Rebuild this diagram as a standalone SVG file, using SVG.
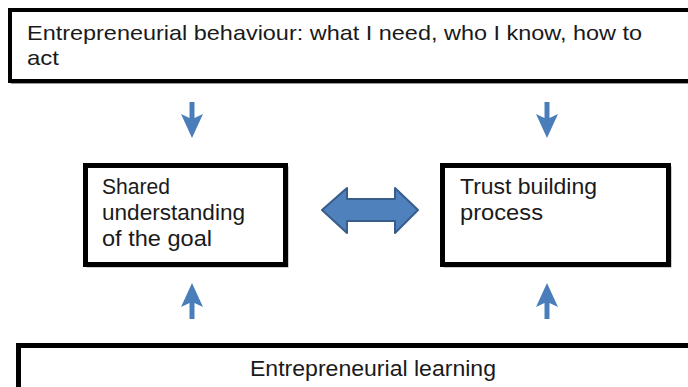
<svg xmlns="http://www.w3.org/2000/svg" width="688" height="387" viewBox="0 0 688 387">
  <defs>
    <style>
      .box { fill: #ffffff; stroke: #000000; }
      .shadow { fill: none; stroke: #9a9a9a; }
      .label { font-family: "Liberation Sans", Arial, sans-serif; fill: #1a1a1a; }
      .arrow { fill: #4a7ebb; }
      .double { fill: #4f81bd; stroke: #385d8a; stroke-width: 2; stroke-linejoin: round; }
    </style>
    <!-- small downward block arrow, tip at (0,0) -->
    <path id="down-arrow" d="M-2.5,-36 H2.5 V-20 L11,-24 L0,0 L-11,-24 L-2.5,-20 Z"/>
  </defs>

  <rect width="688" height="387" fill="#ffffff"/>

  <g id="behaviour">
    <rect class="shadow" x="12" y="12" width="690" height="71" stroke-width="2"/>
    <rect class="box" x="10" y="10" width="690" height="71" stroke-width="4"/>
    <text class="label" x="27" y="40" font-size="21" textLength="615" lengthAdjust="spacingAndGlyphs">Entrepreneurial behaviour: what I need, who I know, how to</text>
    <text class="label" x="27" y="65" font-size="21" textLength="32" lengthAdjust="spacingAndGlyphs">act</text>
  </g>

  <g id="shared-goal">
    <rect class="shadow" x="87.5" y="167.5" width="200" height="99" stroke-width="2"/>
    <rect class="box" x="85.5" y="165.5" width="200" height="99" stroke-width="5"/>
    <text class="label" x="102" y="194" font-size="22" textLength="68" lengthAdjust="spacingAndGlyphs">Shared</text>
    <text class="label" x="102" y="220" font-size="22" textLength="143" lengthAdjust="spacingAndGlyphs">understanding</text>
    <text class="label" x="102" y="246" font-size="22" textLength="110" lengthAdjust="spacingAndGlyphs">of the goal</text>
  </g>

  <g id="trust-building">
    <rect class="shadow" x="444.5" y="167.5" width="226" height="99" stroke-width="2"/>
    <rect class="box" x="442.5" y="165.5" width="226" height="99" stroke-width="5"/>
    <text class="label" x="460" y="194" font-size="22" textLength="137" lengthAdjust="spacingAndGlyphs">Trust building</text>
    <text class="label" x="460" y="220" font-size="22" textLength="83" lengthAdjust="spacingAndGlyphs">process</text>
  </g>

  <g id="learning">
    <rect class="box" x="18.5" y="345.5" width="680" height="60" stroke-width="5"/>
    <text class="label" x="250" y="376" font-size="22" textLength="246" lengthAdjust="spacingAndGlyphs">Entrepreneurial learning</text>
  </g>

  <g id="connectors">
    <use href="#down-arrow" class="arrow" transform="translate(192,138)"/>
    <use href="#down-arrow" class="arrow" transform="translate(547,138)"/>
    <use href="#down-arrow" class="arrow" transform="translate(192,283) rotate(180)"/>
    <use href="#down-arrow" class="arrow" transform="translate(547,283) rotate(180)"/>
    <polygon class="double" points="322,210 347,188 347,199 395,199 395,188 418,210 395,233 395,221 347,221 347,233"/>
  </g>
</svg>
